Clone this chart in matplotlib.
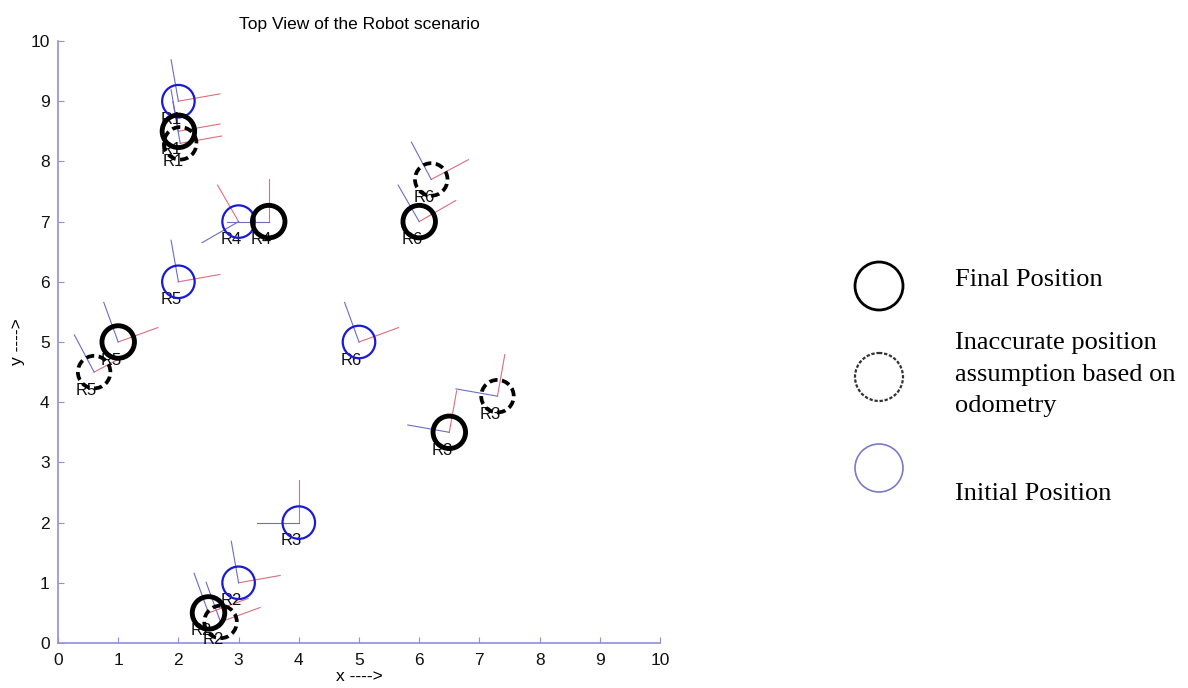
import matplotlib
matplotlib.use('Agg')
import matplotlib.pyplot as plt
from matplotlib.patches import Circle
import numpy as np

plt.rcParams['font.family'] = ['Liberation Sans', 'DejaVu Sans']

# ---------------- data ----------------
robots = ['R1', 'R2', 'R3', 'R4', 'R5', 'R6']
init_x = [2.0, 3.0, 4.0, 3.0, 2.0, 5.0]
init_y = [9.0, 1.0, 2.0, 7.0, 6.0, 5.0]
init_theta = [10, 10, 90, 120, 10, 20]

final_x = [2.0, 2.5, 6.5, 3.5, 1.0, 6.0]
final_y = [8.5, 0.5, 3.5, 7.0, 5.0, 7.0]
final_theta = [10, 20, 80, 90, 20, 30]

odo_robots = ['R1', 'R2', 'R3', 'R5', 'R6']
odo_x = [2.03, 2.7, 7.3, 0.6, 6.2]
odo_y = [8.3, 0.35, 4.1, 4.5, 7.7]
odo_theta = [10, 20, 80, 28, 28]

xticks = list(range(0, 11))
yticks = list(range(0, 11))

legend_labels = ['Final Position',
                 ['Inaccurate position', 'assumption based on', 'odometry'],
                 'Initial Position']

# ---------------- styles ----------------
L = 0.7
RAD = 0.27
RED = '#dc6e7c'
BLUE_LINE = '#6c6cc4'
AXIS_C = '#8f8fdc'

fig = plt.figure(figsize=(11.88, 6.88), dpi=100)
ax = fig.add_axes([58/1188, 45/688, 602/1188, 602/688])
ax.set_xlim(0, 10)
ax.set_ylim(0, 10)


def draw(x, y, th, label, kind):
    t = np.deg2rad(th)
    ax.plot([x, x + L*np.cos(t)], [y, y + L*np.sin(t)], color=RED, lw=0.8,
            zorder=2, clip_on=False)
    ax.plot([x, x + L*np.cos(t + np.pi/2)], [y, y + L*np.sin(t + np.pi/2)],
            color=BLUE_LINE, lw=0.8, zorder=2, clip_on=False)
    ax.text(x - 0.3, y - 0.3, label, ha='left', va='center', fontsize=12,
            color='#111111', zorder=3, clip_on=False)
    if kind == 'init':
        c = Circle((x, y), RAD, fill=False, ec='#1a1ad6', lw=1.6, zorder=4)
    elif kind == 'final':
        c = Circle((x, y), RAD, fill=False, ec='black', lw=3.5, zorder=5)
    else:
        c = Circle((x, y), RAD, fill=False, ec='black', lw=2.7, zorder=4,
                   linestyle=(0, (2.2, 1.2)))
    c.set_clip_on(False)
    ax.add_patch(c)


for i, r in enumerate(robots):
    draw(init_x[i], init_y[i], init_theta[i], r, 'init')
for i, r in enumerate(odo_robots):
    draw(odo_x[i], odo_y[i], odo_theta[i], r, 'odo')
for i, r in enumerate(robots):
    draw(final_x[i], final_y[i], final_theta[i], r, 'final')

ax.spines['top'].set_visible(False)
ax.spines['right'].set_visible(False)
ax.spines['left'].set_color(AXIS_C)
ax.spines['bottom'].set_color(AXIS_C)
ax.spines['left'].set_linewidth(1.2)
ax.spines['bottom'].set_linewidth(1.2)
ax.set_xticks(xticks)
ax.set_yticks(yticks)
ax.tick_params(direction='in', length=4, color=AXIS_C, labelsize=12.5,
               labelcolor='#111111', pad=6)
ax.tick_params(axis='x', pad=7)
ax.set_title('Top View of the Robot scenario', fontsize=12.5, pad=9)
ax.set_xlabel('x ---->', fontsize=12.5, labelpad=1)
ax.set_ylabel('y ---->', fontsize=12.5, labelpad=4)

# ---------------- legend (pixel coordinates) ----------------
lg = fig.add_axes([820/1188, 0, 368/1188, 1])
lg.set_xlim(820, 1188)
lg.set_ylim(688, 0)
lg.set_aspect('equal', adjustable='datalim')
lg.axis('off')
lg.add_patch(Circle((879, 286), 24, fill=False, ec='black', lw=2.0))
lg.add_patch(Circle((879, 377), 24, fill=False, ec='#333333', lw=1.6,
                    linestyle=(0, (1.5, 0.8))))
lg.add_patch(Circle((879, 468), 24, fill=False, ec='#7b7bc8', lw=1.2))
serif = ['Liberation Serif', 'DejaVu Serif']
lg.text(955, 286, legend_labels[0], fontsize=19, family=serif, va='baseline')
for j, line in enumerate(legend_labels[1]):
    lg.text(955, 349 + j*31.5, line, fontsize=19, family=serif, va='baseline')
lg.text(955, 500, legend_labels[2], fontsize=19, family=serif, va='baseline')

fig.savefig('out.png', dpi=100)
